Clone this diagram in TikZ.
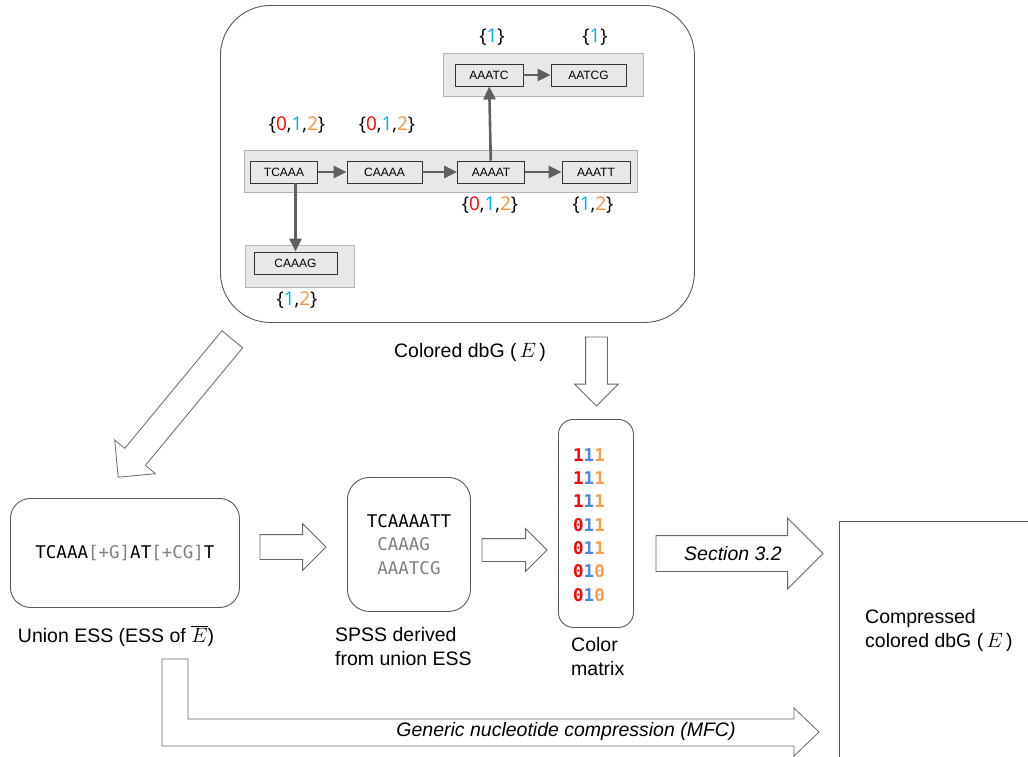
\documentclass[tikz,border=0pt]{standalone}
\usepackage{fontspec}
\setmainfont{Liberation Sans}
\newfontfamily\setfont{Open Sans}
\newfontfamily\seqfont{DejaVu Sans Mono}
\usetikzlibrary{arrows.meta,positioning,shapes.arrows}
\definecolor{cred}{HTML}{FF0000}
\definecolor{ccyan}{HTML}{00B0F0}
\definecolor{corange}{HTML}{F4913E}
\definecolor{cblue}{HTML}{4A86E8}
\definecolor{cpeach}{HTML}{F6A04D}
\definecolor{seqgrey}{HTML}{7F7F7F}
\definecolor{edgegrey}{HTML}{5F5F5F}
\definecolor{groupfill}{HTML}{E8E8E8}
\definecolor{groupline}{HTML}{B4B4B4}
\newcommand{\cz}{\textcolor{cred}{0}}
\newcommand{\co}{\textcolor{ccyan}{1}}
\newcommand{\ct}{\textcolor{corange}{2}}
\newcommand{\mrow}[3]{\textcolor{cred}{#1}\textcolor{cblue}{#2}\textcolor{cpeach}{#3}}
\tikzset{
  group/.style={rectangle, draw=groupline, fill=groupfill, line width=1.2pt, anchor=north west},
  kmer/.style={rectangle, draw=black!80, fill=groupfill, line width=0.9pt, minimum height=22pt, inner sep=0pt, font=\fontsize{12}{14}\selectfont},
  line/.style={-{Triangle[length=13pt,width=12pt]}, line width=2.6pt, draw=edgegrey},
  cset/.style={font=\setfont\fontsize{19}{22}\selectfont},
  panel/.style={rectangle, draw=black!65, line width=0.9pt, anchor=north west, align=left},
  hollow/.style={single arrow, draw=black!60, fill=white, line width=0.8pt, single arrow head indent=0pt, inner xsep=0pt, outer sep=0pt, anchor=tail},
  caption/.style={font=\fontsize{19.5}{23.5}\selectfont, align=left, inner sep=0pt}
}

\begin{document}
\begin{tikzpicture}[x=1pt, y=-1pt]
  \useasboundingbox (0,0) rectangle (1028,756);
  % colored dbG
  \node[panel, rounded corners=50pt, minimum width=474pt, minimum height=317pt] (dbg) at (220,5) {};
  \node[group, minimum width=200pt, minimum height=43pt] (topgroup) at (443,53) {};
  \node[group, minimum width=393pt, minimum height=42pt] (rowgroup) at (244,150) {};
  \node[group, minimum width=109pt, minimum height=42pt] (sidegroup) at (245,245) {};
  \node[kmer, minimum width=67pt] (tcaaa) at (284,172) {TCAAA};
  \node[kmer, minimum width=75pt] (caaaa) at (384.5,172) {CAAAA};
  \node[kmer, minimum width=67pt] (aaaat) at (491,172) {AAAAT};
  \node[kmer, minimum width=68pt] (aaatt) at (596,172) {AAATT};
  \node[kmer, minimum width=68pt] (aaatc) at (489,75) {AAATC};
  \node[kmer, minimum width=75pt] (aatcg) at (588.5,75) {AATCG};
  \node[kmer, minimum width=83pt] (caaag) at (295.5,263) {CAAAG};
  \draw[line] (tcaaa) -- (caaaa);
  \draw[line] (caaaa) -- (aaaat);
  \draw[line] (aaaat) -- (aaatt);
  \draw[line] (aaatc) -- (aatcg);
  \draw[line] (aaaat) -- (aaatc);
  \draw[line] (caaag.north |- tcaaa.south) -- (caaag.north);
  \node[cset] (setA) at (492,37) {\{\co\}};
  \node[cset] (setB) at (595,37) {\{\co\}};
  \node[cset] (setC) at (297,125) {\{\cz,\co,\ct\}};
  \node[cset] (setD) at (387,125) {\{\cz,\co,\ct\}};
  \node[cset] (setE) at (490,205) {\{\cz,\co,\ct\}};
  \node[cset] (setF) at (593,205) {\{\co,\ct\}};
  \node[cset] (setG) at (297,300) {\{\co,\ct\}};
  \node[caption] (dbgcap) at (470,352) {Colored dbG (\,$E$\,)};

  % hollow arrows
  \node[hollow, minimum height=179pt, inner ysep=13pt, single arrow head extend=13pt, rotate=230.4] (toess) at (232.3,339.3) {};
  \node[hollow, minimum height=69pt, inner ysep=10.5pt, single arrow head extend=11pt, rotate=270] (tomatrix) at (596.5,337) {};
  \node[hollow, minimum height=66pt, inner ysep=12pt, single arrow head extend=11pt] (tospss) at (260,547) {};
  \node[hollow, minimum height=65pt, inner ysep=11pt, single arrow head extend=10pt] (tomat) at (482,550) {};
  \node[hollow, minimum height=167pt, inner ysep=17.5pt, single arrow head extend=17.5pt] (section) at (656,553.5) {};
  \node[caption, font=\itshape\fontsize{19.5}{23.5}\selectfont] (sectionlbl) at (733,554) {Section 3.2};

  % lower row
  \node[panel, rounded corners=20pt, minimum width=229pt, minimum height=109pt, font=\seqfont\fontsize{17.5}{21}\selectfont] (union) at (10,498)
    {TCAAA\textcolor{seqgrey}{[+G]}AT\textcolor{seqgrey}{[+CG]}T};
  \node[caption] (unioncap) at (116,636) {Union ESS (ESS of $\overline{E}$)};
  \node[panel, rounded corners=22pt, minimum width=123pt, minimum height=134pt, font=\seqfont\fontsize{17.5}{23.5}\selectfont] (spss) at (347,477)
    {TCAAAATT\\\textcolor{seqgrey}{\phantom{T}CAAAG}\\\textcolor{seqgrey}{\phantom{T}AAATCG}};
  \node[caption, anchor=west] (spsscap) at (335,646.5) {SPSS derived\\from union ESS};
  \node[panel, rounded corners=15pt, minimum width=75pt, minimum height=208pt] (matrix) at (558,419) {};
  \node[anchor=west, inner sep=0pt, align=left, font=\seqfont\bfseries\fontsize{17.5}{23.3}\selectfont] (rows) at (573,525)
    {\mrow111\\\mrow111\\\mrow111\\\mrow011\\\mrow011\\\mrow010\\\mrow010};
  \node[caption, anchor=west] (matrixcap) at (571,656.5) {Color\\matrix};
  \node[panel, minimum width=220pt, minimum height=260pt] (compressed) at (839,521) {};
  \node[caption, anchor=west] (compcap) at (865,630.5) {Compressed\\colored dbG (\,$E$\,)};

  % generic compression
  \draw[draw=black!60, fill=white, line width=0.8pt] (162,659) -- (188,659) -- (188,719) -- (794,719) -- (794,708)
    -- (819,732) -- (794,756) -- (794,746) -- (162,746) -- cycle;
  \node[caption, font=\itshape\fontsize{19.5}{23.5}\selectfont] (mfclbl) at (566,731) {Generic nucleotide compression (MFC)};
\end{tikzpicture}
\end{document}
